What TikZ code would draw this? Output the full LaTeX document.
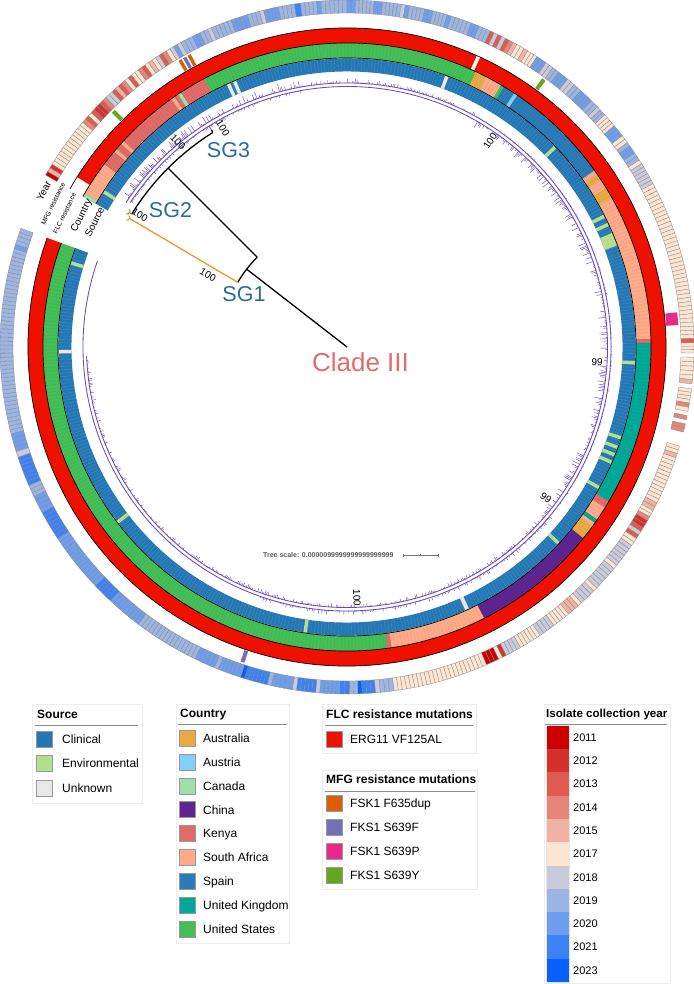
\documentclass[tikz,border=0pt]{standalone}
\usepackage{fontspec}
\setmainfont{Liberation Sans}
\definecolor{y11}{HTML}{CC0000}
\definecolor{y12}{HTML}{D5302B}
\definecolor{y13}{HTML}{DF5A50}
\definecolor{y14}{HTML}{E8857A}
\definecolor{y15}{HTML}{F0B3A3}
\definecolor{y17}{HTML}{FDE5D1}
\definecolor{y18}{HTML}{C9CBD9}
\definecolor{y19}{HTML}{9DB5E2}
\definecolor{y20}{HTML}{6E9EEF}
\definecolor{y21}{HTML}{3C82F6}
\definecolor{y23}{HTML}{0A60FF}
\definecolor{cAus}{HTML}{E9AB41}
\definecolor{cAut}{HTML}{82CFFD}
\definecolor{cCan}{HTML}{A2DEAA}
\definecolor{cChi}{HTML}{5E2590}
\definecolor{cKen}{HTML}{E16B69}
\definecolor{cSA}{HTML}{FFAA88}
\definecolor{cSpa}{HTML}{2A7BB8}
\definecolor{cUK}{HTML}{00A897}
\definecolor{cUS}{HTML}{44BE56}
\definecolor{sCli}{HTML}{2277B4}
\definecolor{sEnv}{HTML}{B3DE8B}
\definecolor{sUnk}{HTML}{E8E8E8}
\definecolor{flc}{HTML}{EE1100}
\definecolor{mOr}{HTML}{D95F02}
\definecolor{mPu}{HTML}{7570B3}
\definecolor{mMa}{HTML}{E7298A}
\definecolor{mGr}{HTML}{66A61E}
\definecolor{treepurple}{HTML}{6A4DB8}
\definecolor{sgblue}{HTML}{2C6A9E}
\definecolor{cladered}{HTML}{E36B6B}
\definecolor{cellgray}{HTML}{8A8A8A}
\definecolor{sg1col}{HTML}{F0962E}
\definecolor{sg2col}{HTML}{5DAA2C}
\tikzset{
  tline/.style={line width=1.3pt, black},
  ringline/.style={line width=0.7pt, black},
  treep/.style={line width=0.85pt, treepurple},
  hair/.style={line width=0.45pt, treepurple},
  sg/.style={font=\fontsize{21.5}{24}\selectfont, text=sgblue, inner sep=0pt, text height=15.4pt, text depth=0pt},
  clade/.style={font=\fontsize{26}{30}\selectfont, text=cladered, inner sep=0pt, text height=18.6pt, text depth=0pt},
  boot/.style={font=\fontsize{10}{12}\selectfont, inner sep=0pt, text height=7.2pt, text depth=0pt},
  ringlab/.style={font=\fontsize{10}{12}\selectfont, inner sep=0pt, text height=7.2pt, text depth=0pt},
  ringsm/.style={font=\fontsize{6.6}{8}\selectfont, inner sep=0pt, text height=4.8pt, text depth=0pt},
  legtitle/.style={font=\bfseries\fontsize{12}{14}\selectfont, anchor=west, inner sep=0pt, text height=8.6pt, text depth=0pt},
  legtext/.style={font=\fontsize{12}{14}\selectfont, anchor=west, inner sep=0pt, text height=8.6pt, text depth=0pt},
  yeartext/.style={font=\fontsize{11}{13}\selectfont, anchor=west, inner sep=0pt, text height=7.9pt, text depth=0pt},
  swatch/.style={draw=black!40, line width=0.6pt, minimum size=16pt, inner sep=0pt},
  legbox/.style={draw=black!7, line width=0.7pt},
  legline/.style={draw=black!45, line width=0.8pt},
  scaletext/.style={font=\bfseries\fontsize{7}{8}\selectfont, text=black!65, anchor=west, inner sep=0pt},
}
\newcommand\ringseg[5]{\fill[fill=#5] (#3:#1) arc[start angle=#3,end angle=#4,radius=#1] -- (#4:#2) arc[start angle=#4,end angle=#3,radius=#2] -- cycle;}
\newcommand\yearseg[3]{%
  \pgfmathtruncatemacro\ycn{max(1,round(((#1)-(#2))/0.68))}%
  \pgfmathsetmacro\ycw{((#1)-(#2))/\ycn}%
  \foreach \k in {1,...,\ycn}{%
    \pgfmathsetmacro\ya{(#1)-(\k-1)*\ycw}%
    \pgfmathsetmacro\yb{(#1)-\k*\ycw}%
    \filldraw[fill=#3,draw=cellgray,line width=0.3pt] (\ya:334pt) arc[start angle=\ya,end angle=\yb,radius=334pt] -- (\yb:347pt) arc[start angle=\yb,end angle=\ya,radius=347pt] -- cycle;
  }%
}
\begin{document}
\begin{tikzpicture}[x=1pt,y=-1pt]
\useasboundingbox (0,0) rectangle (693,984);
\begin{scope}[shift={(347,347)},y=1pt]
% ---------- Source ring
\ringseg{275.5pt}{288.5pt}{150.3}{-200}{sCli}
\foreach \pa/\pb/\pc in {147.8/147.1/sEnv, 114.6/113.9/sUnk, 113.3/112.6/sUnk, 70.1/69.4/sUnk,
  44.2/43.5/sEnv, 27.3/26.6/sEnv, 25.5/24.8/sEnv, 23.3/20.6/sEnv, -2.8/-3.5/sEnv,
  -18.0/-18.7/sEnv, -20.0/-20.7/sEnv, -21.6/-22.3/sEnv, -23.2/-23.9/sEnv, -28.8/-29.5/sEnv,
  -42.5/-43.2/sEnv, -65.0/-65.8/sUnk, -98.0/-98.7/sEnv, -142.3/-143.0/sEnv,
  -178.7/-179.4/sUnk, -196.6/-197.3/sEnv}{\ringseg{275.5pt}{288.5pt}{\pa}{\pb}{\pc}}
% ---------- Country ring
\ringseg{289pt}{304pt}{150.3}{-200}{cUS}
\foreach \pa/\pb/\pc in {150.3/149.6/cCan, 149.6/143.0/cSA, 143.0/140.0/cKen, 140.0/139.3/cSA,
  139.3/138.0/cKen, 138.0/137.3/cSA, 137.3/125.3/cKen, 125.3/124.6/cSA, 124.6/123.8/cKen,
  123.8/123.1/cCan, 123.1/118.1/cKen, 64.9/62.7/cAus, 62.7/59.6/cSA, 58.9/56.6/cSpa,
  56.6/55.9/cAut, 55.9/35.5/cSpa, 35.5/34.5/cSA, 34.5/33.5/cAus, 33.5/31.5/cSA,
  31.5/29.5/cAus, 29.5/1.5/cSA, 1.5/0.8/cKen, 0.8/-30.5/cUK, -30.5/-31.9/cKen,
  -31.9/-34.6/cSA, -34.6/-35.4/cUK, -35.4/-36.2/cSA, -36.2/-39.0/cAus, -39.0/-63.2/cChi,
  -63.2/-81.6/cSA, -81.6/-82.3/cKen}{\ringseg{289pt}{304pt}{\pa}{\pb}{\pc}}
% cell texture
\foreach \i in {0,...,514}{%
  \pgfmathsetmacro\ta{150.3-\i*0.68}%
  \draw[white,opacity=0.18,line width=0.3pt] (\ta:275.5pt) -- (\ta:288.5pt);
  \draw[black,opacity=0.08,line width=0.3pt] (\ta:289.5pt) -- (\ta:303.5pt);
}
% ---------- FLC ring
\ringseg{304pt}{319pt}{147.8}{66.0}{flc}
\ringseg{304pt}{319pt}{65.3}{-200}{flc}
\foreach \rr in {289,304,319}{\draw[ringline] (150.3:\rr pt) arc[start angle=150.3,end angle=-200,radius=\rr pt];}
% ---------- MFG ring
\foreach \pa/\pb/\pc in {135.1/134.4/mGr, 120.5/119.9/mOr, 119.6/119.0/mPu, 118.7/118.1/mOr,
  54.0/53.3/mGr, 6.0/3.8/mMa, -108.0/-108.7/mPu}{\ringseg{320pt}{332pt}{\pa}{\pb}{\pc}}
% ---------- Year ring
\foreach \pa/\pb/\pc in {150.3/149.6/y11, 149.6/148.9/y15, 148.9/148.2/y12, 148.2/139.6/y17,
  139.6/138.9/y14, 138.9/138.2/y13, 138.2/137.5/y17, 137.5/136.8/y13, 136.8/135.4/y12,
  135.4/134.7/y13, 134.7/134.0/y14, 134.0/132.6/y18, 132.6/131.9/y13, 131.9/131.2/y15,
  131.2/130.5/y13, 130.5/129.8/y14, 129.8/129.1/y17, 129.1/128.4/y13, 128.4/127.0/y17,
  127.0/126.3/y14, 126.3/125.6/y13, 125.6/124.9/y17, 124.9/124.2/y15, 124.2/123.5/y17,
  123.5/122.8/y18, 122.8/122.1/y13, 122.1/121.4/y14, 121.4/120.7/y17, 120.7/120.0/y18,
  120.0/119.3/y20, 119.3/118.6/y18, 118.6/116.5/y19, 116.5/115.1/y20, 115.1/113.7/y19,
  113.7/113.0/y18, 113.0/109.5/y19, 109.5/106.7/y20, 106.7/104.6/y19, 104.6/103.9/y18,
  103.9/101.4/y20, 101.4/98.7/y19, 98.7/97.7/y21, 97.7/95.0/y19, 95.0/94.3/y20,
  94.3/90.0/y19, 90.0/88.6/y20, 88.6/85.5/y19, 85.5/84.1/y20, 84.1/81.0/y19,
  81.0/80.3/y18, 80.3/79.6/y20, 79.6/77.0/y19, 77.0/75.6/y20, 75.6/73.2/y19,
  73.2/72.5/y20, 72.5/69.0/y19, 69.0/67.6/y20, 67.6/65.6/y19, 65.6/64.9/y13,
  64.9/64.2/y18, 64.2/63.5/y13, 63.5/62.8/y18, 62.8/62.1/y13, 62.1/61.4/y14,
  61.4/60.7/y15, 60.7/59.3/y17, 59.3/58.6/y15, 58.6/56.8/y17, 56.8/55.0/y20,
  55.0/53.6/y18, 53.6/52.4/y19, 52.4/50.5/y20, 50.5/49.1/y18, 49.1/47.6/y19,
  47.6/45.2/y20, 45.2/43.8/y19, 43.8/43.1/y18, 43.1/42.0/y19, 42.0/39.6/y17,
  39.6/37.5/y20, 37.5/36.1/y17, 36.1/35.4/y19, 35.4/34.0/y20, 34.0/32.6/y19,
  32.6/31.9/y17, 31.9/28.1/y18, 28.1/1.4/y17, 1.4/0.7/y13, 0.7/-1.0/y17,
  -1.7/-5.4/y17, -5.4/-6.1/y15, -6.9/-9.3/y17, -9.3/-10.0/y14, -10.0/-10.7/y17,
  -11.4/-12.1/y14, -12.8/-14.2/y14, -16.6/-17.9/y17, -17.9/-18.6/y15, -18.6/-26.7/y17,
  -26.7/-28.1/y15, -28.1/-29.3/y17, -29.3/-30.0/y14, -30.0/-31.4/y12, -31.4/-32.1/y13,
  -32.1/-32.8/y18, -32.8/-33.5/y13, -33.5/-34.9/y17, -34.9/-39.0/y18, -39.0/-39.7/y17,
  -39.7/-44.0/y18, -44.0/-44.7/y17, -44.7/-47.5/y18, -47.5/-48.2/y17, -48.2/-50.3/y15,
  -50.3/-53.4/y17, -53.4/-56.2/y18, -56.2/-60.0/y17, -60.0/-62.7/y18, -62.7/-63.4/y12,
  -63.4/-64.1/y17, -64.1/-66.3/y11, -66.3/-82.2/y17, -82.2/-84.5/y19, -84.5/-85.3/y18,
  -85.3/-87.5/y21, -87.5/-88.2/y23, -88.2/-89.6/y19, -89.6/-91.2/y21, -91.2/-94.5/y20,
  -94.5/-95.2/y18, -95.2/-98.4/y21, -98.4/-99.1/y18, -99.1/-102.6/y20, -102.6/-103.3/y19,
  -103.3/-107.2/y21, -107.2/-107.9/y23, -107.9/-111.8/y20, -111.8/-112.5/y19, -112.5/-116.0/y20,
  -116.0/-127.0/y19, -127.0/-133.0/y20, -133.0/-136.5/y21, -136.5/-146.5/y20, -146.5/-151.5/y21,
  -151.5/-154.5/y20, -154.5/-156.5/y19, -156.5/-161.5/y21, -161.5/-162.5/y18, -162.5/-165.5/y20,
  -165.5/-196.5/y19, -196.5/-197.2/y20, -197.2/-200/y19}{\yearseg{\pa}{\pb}{\pc}}
% ---------- Tree
\draw[tline] (0,0) -- (142.2:127pt);
\draw[tline] (149.4:127pt) arc[start angle=149.4,end angle=135,radius=127pt];
\draw[line width=1.3pt, sg1col] (149.4:127pt) -- (149.4:253pt);
\draw[line width=0.8pt, sg1col] (150.0:253pt) arc[start angle=150.0,end angle=149.0,radius=253pt];
\draw[line width=0.8pt, sg1col] (150.0:253pt) -- (150.0:255pt) (149.0:253pt) -- (149.0:255pt);
\draw[tline] (135:127pt) -- (135:253pt);
\draw[tline] (148.3:253pt) arc[start angle=148.3,end angle=122,radius=253pt];
\draw[line width=1pt, sg2col] (148.3:253pt) -- (148.3:256pt);
\draw[line width=0.8pt, sg2col] (148.8:256pt) arc[start angle=148.8,end angle=147.8,radius=256pt];
\draw[line width=0.8pt, sg2col] (148.8:256pt) -- (148.8:258pt) (147.8:256pt) -- (147.8:258pt);
\draw[tline] (122:253pt) -- (122:256pt);
\draw[treep] (122:256pt) -- (122:260.5pt);
\draw[treep] (146.3:260.5pt) arc[start angle=146.3,end angle=-178,radius=260.5pt];
\draw[treep] (146.8:264pt) arc[start angle=146.8,end angle=-199,radius=264pt];
\pgfmathsetseed{4242}
\foreach \i in {0,...,1020}{%
  \pgfmathsetmacro\ha{146.3-\i*0.34}%
  \pgfmathsetmacro\ho{264+(\ha>100)*rnd^2*8+(\ha<100)*(\ha>60)*rnd^2*4+(\ha<60)*(\ha>-40)*rnd^2*1.5+(\ha<-40)*(\ha>-110)*rnd^2*4}%
  \pgfmathsetmacro\hi{260.5-(\ha<60)*(\ha>-40)*rnd^2*8-(\ha<-40)*(\ha>-110)*rnd^2*4-(\ha<-110)*(\ha>-178)*rnd^2*4-(\ha>100)*rnd^2*3}%
  \draw[hair] (\ha:264pt) -- (\ha:\ho pt) (\ha:260.5pt) -- (\ha:\hi pt);
}
% ---------- Ring labels
\node[ringlab, rotate=63.6] (labSource) at (153.6:282pt) {Source};
\node[ringlab, rotate=63.7] (labCountry) at (153.7:297pt) {Country};
\node[ringsm, rotate=64.7] (labFLC) at (154.7:312.5pt) {FLC resistance};
\node[ringsm, rotate=64.0] (labMFG) at (154.0:327pt) {MFG resistance};
\node[ringlab, rotate=62.8] (labYear) at (152.8:341pt) {Year};
\end{scope}
% ---------- Tree labels (image coordinates)
\node[sg] (sg3) at (228.5,150) {SG3};
\node[sg] (sg2) at (170.5,210) {SG2};
\node[sg] (sg1) at (244,293.5) {SG1};
\node[clade] (clade) at (360.5,362) {Clade III};
\node[boot, rotate=-30] (b1) at (208,275) {100};
\node[boot, rotate=-32] (b2) at (140,215) {100};
\node[boot, rotate=-45] (b3) at (178,142) {100};
\node[boot, rotate=-58] (b4) at (223,128) {100};
\node[boot, rotate=57] (b5) at (490,141) {100};
\node[boot, rotate=-3] (b6) at (597,362) {99};
\node[boot, rotate=-37] (b7) at (546,498) {99};
\node[boot, rotate=-88] (b8) at (357,598) {100};
% tree scale
\node[scaletext] (tscale) at (263,555) {Tree scale: 0.0000099999999999999999};
\coordinate (sbA) at (403,555);
\coordinate (sbB) at (438,555);
\coordinate (sbM) at (420.5,555);
\draw[black!55, line width=0.6pt] (sbA) -- (sbB);
\draw[black!55, line width=0.6pt] ([yshift=1.5pt]sbA) -- ([yshift=-1.5pt]sbA) ([yshift=1.5pt]sbB) -- ([yshift=-1.5pt]sbB) ([yshift=1.2pt]sbM) -- ([yshift=-1.2pt]sbM);
% ---------- Legends
% Source
\draw[legbox] (32,704) rectangle (142,803);
\node[legtitle] (srcT) at (37,714) {Source};
\draw[legline] (35,725) -- (138,725);
\foreach \cc/\ct [count=\n from 0] in {sCli/Clinical, sEnv/Environmental, sUnk/Unknown}{
  \node[swatch, fill=\cc] (ss\n) at (44.5,739+\n*24.5) {};
  \node[legtext] (st\n) at (62,739+\n*24.5) {\ct};
}
% Country
\draw[legbox] (176,704) rectangle (289,943);
\node[legtitle] (couT) at (180,713) {Country};
\draw[legline] (178,724.5) -- (287,724.5);
\foreach \cc/\ct [count=\n from 0] in {cAus/Australia, cAut/Austria, cCan/Canada, cChi/China, cKen/Kenya, cSA/South Africa, cSpa/Spain, cUK/United Kingdom, cUS/United States}{
  \node[swatch, fill=\cc] (cs\n) at (187.5,738+\n*23.9) {};
  \node[legtext] (ct\n) at (203,738+\n*23.9) {\ct};
}
% FLC
\draw[legbox] (322,704) rectangle (476,753);
\node[legtitle] (flcT) at (326,714) {FLC resistance mutations};
\draw[legline] (325,725) -- (473,725);
\node[swatch, fill=flc] (fs0) at (334,739) {};
\node[legtext] (ft0) at (350,739) {ERG11 VF125AL};
% MFG
\draw[legbox] (322,770) rectangle (477,889);
\node[legtitle] (mfgT) at (326,779) {MFG resistance mutations};
\draw[legline] (325,791) -- (475,791);
\foreach \cc/\ct [count=\n from 0] in {mOr/FSK1 F635dup, mPu/FKS1 S639F, mMa/FSK1 S639P, mGr/FKS1 S639Y}{
  \node[swatch, fill=\cc] (ms\n) at (334,803+\n*24) {};
  \node[legtext] (mt\n) at (350,803+\n*24) {\ct};
}
% Year
\draw[legbox] (544,704) rectangle (670,983);
\node[legtitle, font=\bfseries\fontsize{11.6}{14}\selectfont] (yrT) at (546,713) {Isolate collection year};
\draw[legline] (545,724.5) -- (667,724.5);
\foreach \cc/\ct [count=\n from 0] in {y11/2011, y12/2012, y13/2013, y14/2014, y15/2015, y17/2017, y18/2018, y19/2019, y20/2020, y21/2021, y23/2023}{
  \fill[fill=\cc] (546,725.7+\n*23.3) rectangle (569,749+\n*23.3);
  \node[yeartext] (yt\n) at (573,737.3+\n*23.3) {\ct};
}
\draw[black!10, line width=0.5pt] (546,725.7) rectangle (569,982);
\end{tikzpicture}
\end{document}
